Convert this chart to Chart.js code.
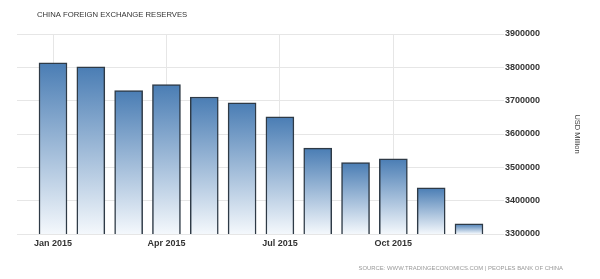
<!DOCTYPE html>
<html>
<head>
<meta charset="utf-8">
<script src="https://cdn.jsdelivr.net/npm/chart.js@4/dist/chart.umd.min.js"></script>
<style>
  html, body { margin: 0; padding: 0; background: #fff; }
  #wrap { width: 600px; height: 279px; }
</style>
</head>
<body>
<div id="wrap"><canvas id="reservesChart"></canvas></div>
<script>
// China foreign exchange reserves, USD million, 2015
const months = ['Jan', 'Feb', 'Mar', 'Apr', 'May', 'Jun', 'Jul', 'Aug', 'Sep', 'Oct', 'Nov', 'Dec'];
const reserves = [3813400, 3801500, 3730000, 3748100, 3711100, 3693800, 3651300, 3557400, 3514100, 3525500, 3438400, 3330400];
const xTickIndex = [0, 3, 6, 9];
const xTickLabels = ['Jan 2015', 'Apr 2015', 'Jul 2015', 'Oct 2015'];

const titleText = 'CHINA FOREIGN EXCHANGE RESERVES';
const sourceText = 'SOURCE: WWW.TRADINGECONOMICS.COM | PEOPLES BANK OF CHINA';

document.addEventListener('DOMContentLoaded', function () {
    const ctx = document.getElementById('reservesChart').getContext('2d');

    const textPlugin = {
        id: 'headerFooter',
        afterDraw(chart) {
            const c = chart.ctx;
            c.save();
            c.font = '7.7px "Liberation Sans", Arial, sans-serif';
            c.fillStyle = '#333';
            c.textAlign = 'left';
            c.textBaseline = 'middle';
            c.fillText(titleText, 37, 15);
            c.font = '5.9px "Liberation Sans", Arial, sans-serif';
            c.fillStyle = '#999';
            c.textAlign = 'right';
            c.fillText(sourceText, 563, 268);
            c.restore();
        }
    };

    function barGradient(context) {
        const chart = context.chart;
        if (!chart.chartArea || context.parsed == null) return '#4a7eb5';
        const y = chart.scales.y;
        const top = y.getPixelForValue(context.parsed.y);
        const bottom = y.getPixelForValue(y.min);
        const g = chart.ctx.createLinearGradient(0, top, 0, bottom);
        g.addColorStop(0, '#4a7db4');
        g.addColorStop(1, '#f4f8fc');
        return g;
    }

    new Chart(ctx, {
        type: 'bar',
        data: {
            datasets: [{
                label: 'Reserves',
                data: reserves.map((v, i) => ({ x: i, y: v })),
                backgroundColor: barGradient,
                borderColor: '#2e3a46',
                borderWidth: 1.5,
                borderSkipped: false,
                barThickness: 28,
            }],
        },
        options: {
            responsive: true,
            maintainAspectRatio: false,
            animation: false,
            layout: { padding: { left: 17, top: 34, right: 0, bottom: 0 } },
            plugins: {
                legend: { display: false },
                tooltip: { enabled: false },
            },
            scales: {
                x: {
                    type: 'linear',
                    offset: false,
                    min: -0.952,
                    max: 11.82,
                    afterBuildTicks(scale) {
                        scale.ticks = xTickIndex.map(v => ({ value: v }));
                    },
                    afterFit(scale) { scale.height = 45; },
                    ticks: {
                        callback: (v) => xTickLabels[xTickIndex.indexOf(v)],
                        color: '#333',
                        font: { family: '"Liberation Sans", Arial, sans-serif', size: 9, weight: 'bold' },
                        padding: 4,
                        maxRotation: 0,
                    },
                    grid: { color: '#e6e6e6', drawTicks: false, offset: false },
                    border: { display: false },
                },
                y: {
                    position: 'right',
                    min: 3300000,
                    max: 3900000,
                    afterFit(scale) { scale.width = 100; },
                    ticks: {
                        stepSize: 100000,
                        callback: (v) => String(v),
                        color: '#333',
                        font: { family: '"Liberation Sans", Arial, sans-serif', size: 9, weight: 'bold' },
                        padding: 1,
                    },
                    grid: { color: '#e6e6e6', tickLength: 4 },
                    border: { display: false },
                    title: {
                        display: true,
                        text: 'USD Million',
                        color: '#444',
                        font: { family: '"Liberation Sans", Arial, sans-serif', size: 7.5 },
                        padding: { top: 18, bottom: 0 },
                    },
                },
            },
        },
        plugins: [textPlugin],
    });
});
</script>
</body>
</html>
